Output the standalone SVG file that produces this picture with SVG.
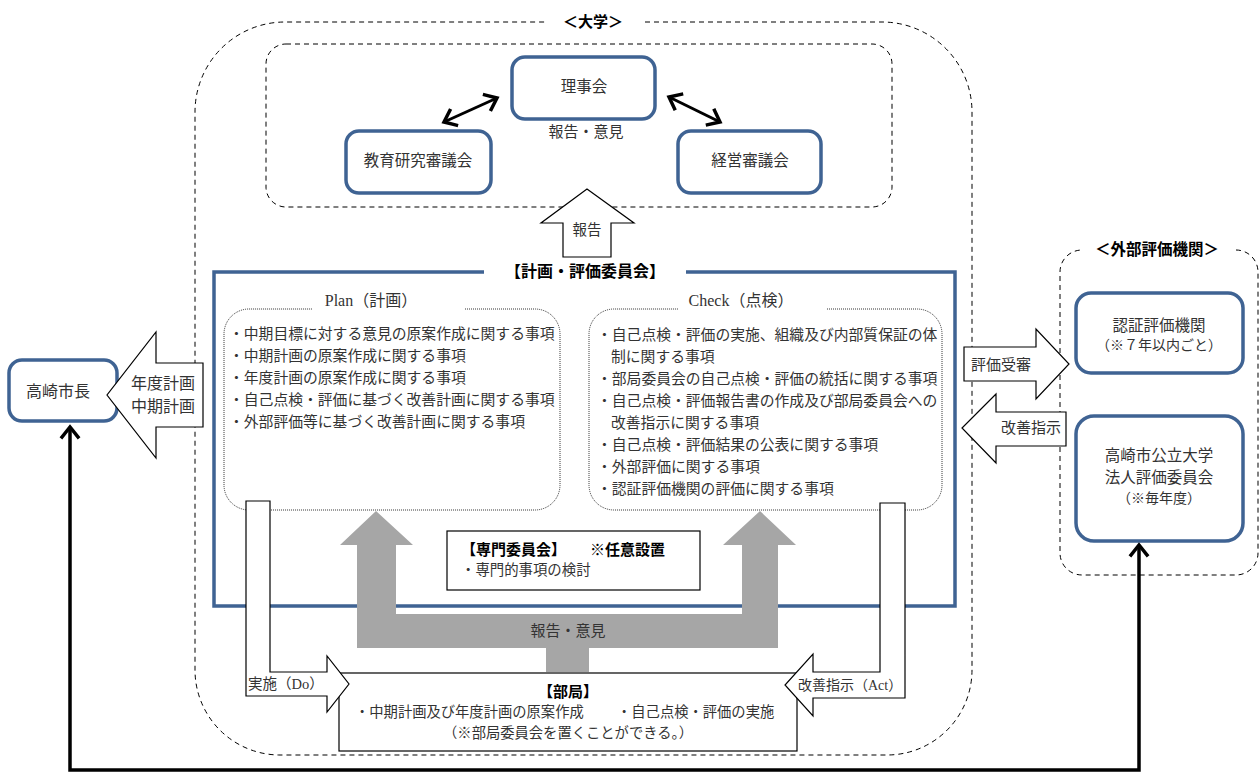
<svg xmlns="http://www.w3.org/2000/svg" width="1260" height="774" viewBox="0 0 1260 774">
<defs>
<style>
.t{font-family:"Liberation Serif","Noto Sans CJK JP",serif;fill:#333;dominant-baseline:central}
.c{text-anchor:middle}
.b{font-family:"Noto Sans CJK JP",sans-serif;font-weight:bold;fill:#000;dominant-baseline:central}
.node{fill:#fff;stroke:#3f6393;stroke-width:3.5}
.dash{fill:none;stroke:#000;stroke-width:1;stroke-dasharray:5,4}
.dot{fill:none;stroke:#000;stroke-width:0.8;stroke-dasharray:1,1}
.blk{fill:#fff;stroke:#000;stroke-width:1.2}
.conn{fill:none;stroke:#000;stroke-width:3.5}
</style>
<marker id="ch" markerUnits="userSpaceOnUse" markerWidth="30" markerHeight="30" viewBox="-15 -15 30 30" refX="0" refY="0" orient="auto-start-reverse" overflow="visible">
<path d="M-10,-8 L0,0 L-10,8" fill="none" stroke="#000" stroke-width="3.5" stroke-linecap="square"/>
</marker>
</defs>

<!-- University frame -->
<g id="university">
<path class="dash" d="M645,22 L882,22 A90,90 0 0 1 972,112 L972,670 A85,85 0 0 1 887,755 L280,755 A85,85 0 0 1 195,670 L195,112 A90,90 0 0 1 285,22 L546,22"/>
<text class="b c" x="593" y="20" font-size="15">＜大学＞</text>
</g>

<g id="board">
<rect class="dash" x="266" y="44" width="626" height="163" rx="20"/>
</g>
<g id="rijikai">
<rect class="node" x="512" y="57" width="143" height="62" rx="13"/>
<text class="t c" x="584" y="86" font-size="15.5">理事会</text>
</g>
<g id="kyoiku">
<rect class="node" x="346" y="131" width="145" height="62" rx="13"/>
<text class="t c" x="418" y="160" font-size="15.5">教育研究審議会</text>
</g>
<g id="keiei">
<rect class="node" x="678" y="131" width="143" height="62" rx="13"/>
<text class="t c" x="750" y="160" font-size="15.5">経営審議会</text>
</g>
<text class="t c" x="586" y="132" font-size="15">報告・意見</text>

<!-- committee -->
<g id="committee">
<path d="M686,272 L955,272 L955,606 L214,606 L214,272 L484,272" fill="none" stroke="#3f6393" stroke-width="3.5"/>
<text class="b c" x="585" y="270" font-size="16">【計画・評価委員会】</text>
</g>

<g id="plan">
<path class="dot" d="M465,309 L535,309 A25,25 0 0 1 560,334 L560,485 A25,25 0 0 1 535,510 L249,510 A25,25 0 0 1 224,485 L224,334 A25,25 0 0 1 249,309 L312,309"/>
<text class="t c" x="371" y="300" font-size="16">Plan（計画）</text>
<g class="t" font-size="14.8">
<text x="229" y="334">・中期目標に対する意見の原案作成に関する事項</text>
<text x="229" y="356">・中期計画の原案作成に関する事項</text>
<text x="229" y="378">・年度計画の原案作成に関する事項</text>
<text x="229" y="400">・自己点検・評価に基づく改善計画に関する事項</text>
<text x="229" y="422">・外部評価等に基づく改善計画に関する事項</text>
</g>
</g>

<g id="check">
<path class="dot" d="M827,309 L917,309 A25,25 0 0 1 942,334 L942,485 A25,25 0 0 1 917,510 L614,510 A25,25 0 0 1 589,485 L589,334 A25,25 0 0 1 614,309 L678,309"/>
<text class="t c" x="741" y="300" font-size="16">Check（点検）</text>
<g class="t" font-size="14.8">
<text x="597" y="335">・自己点検・評価の実施、組織及び内部質保証の体</text>
<text x="611" y="357">制に関する事項</text>
<text x="597" y="379">・部局委員会の自己点検・評価の統括に関する事項</text>
<text x="597" y="401">・自己点検・評価報告書の作成及び部局委員会への</text>
<text x="611" y="423">改善指示に関する事項</text>
<text x="597" y="445">・自己点検・評価結果の公表に関する事項</text>
<text x="597" y="467">・外部評価に関する事項</text>
<text x="597" y="489">・認証評価機関の評価に関する事項</text>
</g>
</g>

<g id="senmon">
<rect class="blk" x="447" y="531" width="253" height="59"/>
<text class="b" x="461" y="548" font-size="15">【専門委員会】</text>
<text class="b" x="590" y="548" font-size="15">※任意設置</text>
<text class="t" x="461" y="570" font-size="14.4">・専門的事項の検討</text>
</g>

<g id="bukyoku">
<rect class="blk" x="339" y="673" width="458" height="78"/>
<text class="b c" x="568" y="690" font-size="15">【部局】</text>
<text class="t" x="355" y="712" font-size="14.3">・中期計画及び年度計画の原案作成</text>
<text class="t" x="617" y="712" font-size="14.3">・自己点検・評価の実施</text>
<text class="t c" x="568" y="733" font-size="14.3">（※部局委員会を置くことができる。）</text>
</g>

<g id="ext">
<path class="dash" d="M1236,250 A22,22 0 0 1 1258,272 L1258,553 A22,22 0 0 1 1236,575 L1082,575 A22,22 0 0 1 1060,553 L1060,272 A22,22 0 0 1 1082,250"/>
<text class="b c" x="1157" y="248" font-size="15.5">＜外部評価機関＞</text>
</g>
<g id="ninsho">
<rect class="node" x="1076" y="293" width="167" height="80" rx="15"/>
<text class="t c" x="1159" y="325" font-size="15.5">認証評価機関</text>
<text class="t c" x="1159" y="345" font-size="14">（※７年以内ごと）</text>
</g>
<g id="hyoka-iinkai">
<rect class="node" x="1076" y="416" width="167" height="125" rx="18"/>
<text class="t c" x="1159" y="455" font-size="15.5">高崎市公立大学</text>
<text class="t c" x="1159" y="477" font-size="15.5">法人評価委員会</text>
<text class="t c" x="1159" y="498" font-size="14">（※毎年度）</text>
</g>

<g id="shicho">
<rect class="node" x="9" y="360" width="108" height="61" rx="13"/>
<text class="t c" x="58" y="391" font-size="16">高崎市長</text>
</g>

<g id="connectors">
<!-- double arrows in board -->
<line x1="444" y1="122" x2="497" y2="98" stroke="#000" stroke-width="3" marker-start="url(#ch)" marker-end="url(#ch)"/>
<line x1="669" y1="97" x2="720" y2="122" stroke="#000" stroke-width="3" marker-start="url(#ch)" marker-end="url(#ch)"/>
<!-- report up arrow -->
<path class="blk" d="M563,257 L563,223 L541,223 L587,189 L634,223 L611,223 L611,257 Z"/>
<text class="t c" x="587" y="230" font-size="14.5">報告</text>
<!-- gray U arrow -->
<path d="M357,648 L357,545 L340,545 L376,511 L413,545 L396,545 L396,614 L742,614 L742,545 L723,545 L760,511 L796,545 L778,545 L778,648 L589,648 L589,672 L546,672 L546,648 Z" fill="#a6a6a6"/>
<text class="t c" x="568" y="631" font-size="15">報告・意見</text>
<!-- Do arrow -->
<path class="blk" d="M246,501 L270,501 L270,672 L327,672 L327,656 L349,684 L327,712 L327,696 L246,696 Z"/>
<text class="t" x="248" y="684" font-size="14.5">実施（Do）</text>
<!-- Act arrow -->
<path class="blk" d="M905,503 L880,503 L880,672 L813,672 L813,654 L785,685 L813,716 L813,698 L905,698 Z"/>
<text class="t" x="798" y="685" font-size="14">改善指示（Act）</text>
<!-- plan to mayor arrow -->
<path class="blk" d="M203,363 L203,427 L156,427 L156,458 L107,395 L156,332 L156,363 Z"/>
<text class="t c" x="163" y="383" font-size="16">年度計画</text>
<text class="t c" x="163" y="406" font-size="16">中期計画</text>
<!-- 評価受審 -->
<path class="blk" d="M964,347 L1036,347 L1036,329 L1069,364 L1036,399 L1036,381 L964,381 Z"/>
<text class="t c" x="1001" y="365" font-size="15">評価受審</text>
<!-- 改善指示 -->
<path class="blk" d="M1066,412 L996,412 L996,394 L962,428 L996,463 L996,446 L1066,446 Z"/>
<text class="t c" x="1031" y="428" font-size="15">改善指示</text>
<!-- bottom loop -->
<path class="conn" d="M1139,545 L1139,770 L70,770 L70,427" marker-start="url(#ch)" marker-end="url(#ch)"/>
</g>
</svg>
